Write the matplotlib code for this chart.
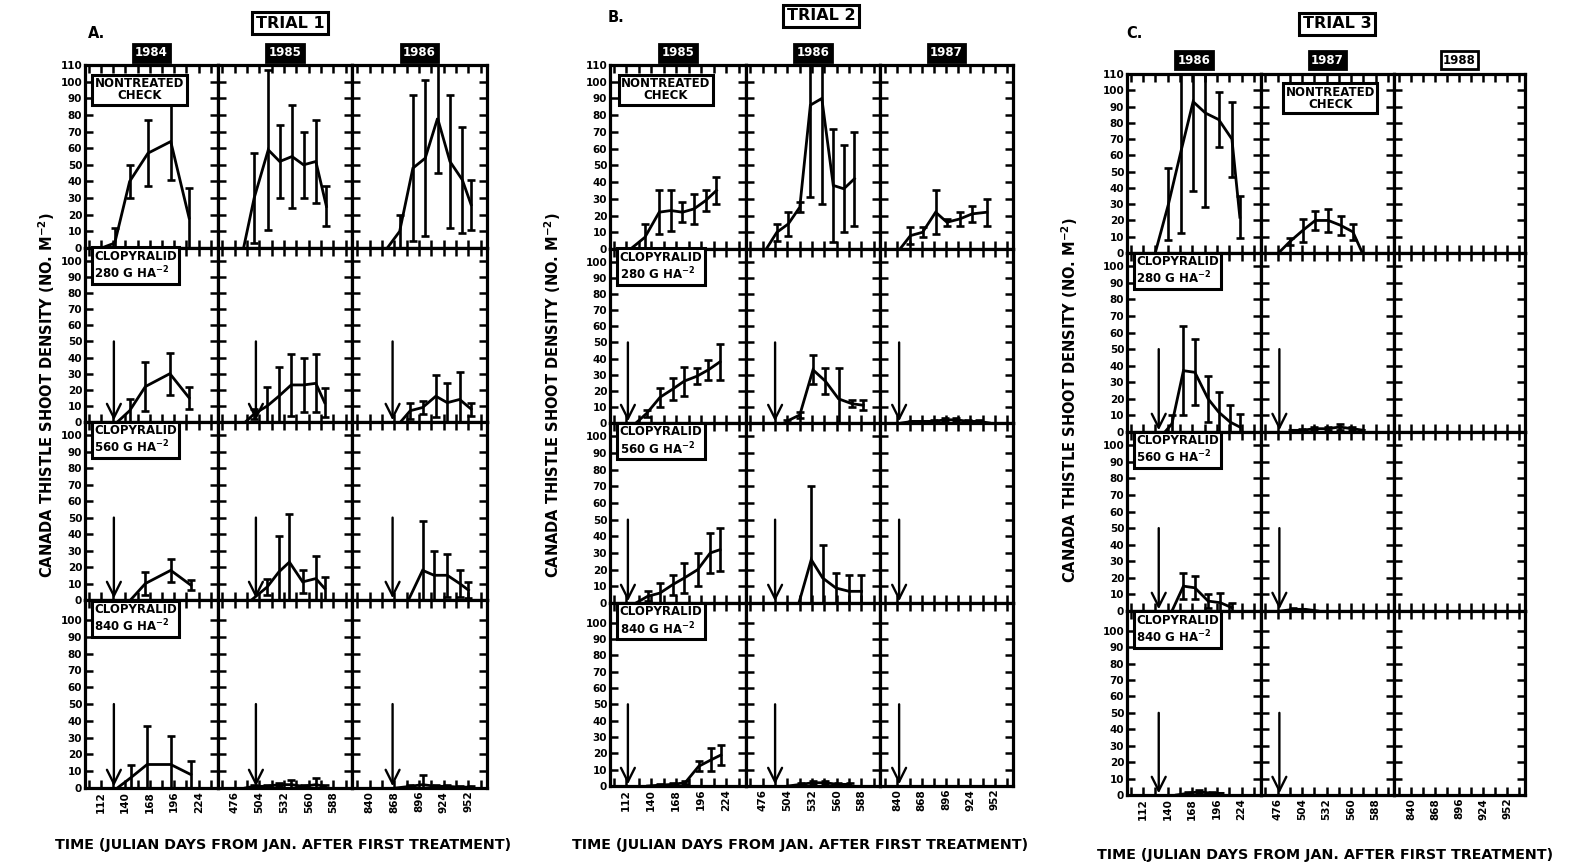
import matplotlib
matplotlib.use('Agg')
import matplotlib.pyplot as plt
import numpy as np

plt.rcParams['font.family'] = ['DejaVu Sans']
plt.rcParams['font.weight'] = 'bold'
plt.rcParams['mathtext.default'] = 'bf'

# ---------------- data (Julian days, shoots per m2, error) ----------------
YEARS_T1 = ['1984', '1985', '1986']
YEARS_T2 = ['1985', '1986', '1987']
YEARS_T3 = ['1986', '1987', '1988']
TICKS_Y1 = [112, 140, 168, 196, 224]
TICKS_Y2 = [476, 504, 532, 560, 588]
TICKS_Y3 = [840, 868, 896, 924, 952]
TREATMENTS = ['NONTREATED\nCHECK', 'CLOPYRALID\n280 G HA$^{-2}$',
              'CLOPYRALID\n560 G HA$^{-2}$', 'CLOPYRALID\n840 G HA$^{-2}$']

# Trial 1
T1_CHECK_DAY = [[113, 128, 145, 166, 192, 213], [486, 498, 514, 527, 541, 554, 568, 580], [860, 874, 889, 903, 917, 931, 945, 955]]
T1_CHECK_MEAN = [[0, 3, 40, 57, 64, 18], [0, 30, 59, 52, 55, 50, 52, 25], [0, 10, 48, 54, 78, 52, 41, 26]]
T1_CHECK_ERR = [[0, 9, 10, 20, 23, 18], [0, 27, 48, 22, 31, 20, 25, 12], [0, 10, 44, 47, 33, 40, 32, 15]]
T1_280_DAY = [[131, 145, 163, 191, 213], [488, 498, 513, 526, 540, 554, 568, 578], [875, 886, 900, 915, 928, 942, 955]]
T1_280_MEAN = [[0, 7, 22, 30, 15], [0, 5, 10, 16, 23, 23, 24, 12], [0, 7, 9, 16, 12, 14, 8]]
T1_280_ERR = [[0, 7, 15, 13, 7], [0, 3, 12, 18, 19, 17, 18, 9], [0, 5, 4, 13, 12, 17, 4]]
T1_560_DAY = [[146, 163, 192, 215], [495, 513, 526, 538, 553, 568, 578], [884, 900, 913, 928, 942, 952]]
T1_560_MEAN = [[0, 10, 18, 9], [0, 8, 17, 23, 11, 13, 7], [0, 18, 15, 15, 10, 6]]
T1_560_ERR = [[0, 7, 7, 3], [0, 5, 22, 29, 7, 14, 7], [0, 30, 15, 13, 8, 5]]
T1_840_DAY = [[131, 146, 165, 192, 215], [488, 498, 513, 526, 540, 554, 568, 578], [870, 886, 900, 915, 928, 942, 955]]
T1_840_MEAN = [[0, 6, 14, 14, 8], [0, 1, 1, 2, 2, 1, 2, 1], [0, 1, 2, 1, 1, 0.5, 0.5]]
T1_840_ERR = [[0, 8, 23, 17, 8], [0, 1, 1, 1, 3, 1, 4, 1], [0, 1, 6, 1, 1, 0.5, 0.5]]
T1_ARROW = [127, 500, 866]

# Trial 2
T2_CHECK_DAY = [[117, 133, 149, 162, 175, 188, 201, 213], [480, 492, 505, 518, 530, 543, 556, 568, 580], [843, 855, 869, 884, 897, 912, 926, 943]]
T2_CHECK_MEAN = [[0, 7, 22, 23, 22, 24, 29, 35], [0, 10, 15, 25, 86, 90, 38, 36, 42], [0, 8, 10, 22, 16, 18, 21, 22]]
T2_CHECK_ERR = [[0, 8, 13, 12, 6, 9, 6, 8], [0, 5, 7, 3, 55, 63, 34, 26, 28], [0, 5, 3, 13, 2, 4, 5, 8]]
T2_280_DAY = [[123, 135, 150, 164, 177, 191, 204, 217], [503, 518, 533, 547, 562, 577, 590], [845, 857, 869, 882, 895, 908, 921, 934, 946]]
T2_280_MEAN = [[0, 6, 16, 21, 26, 29, 33, 38], [1, 5, 33, 26, 15, 12, 11], [0, 1, 1, 1, 2, 2, 1, 1, 0]]
T2_280_ERR = [[0, 2, 6, 7, 9, 5, 6, 11], [1, 2, 9, 8, 19, 2, 3], [0, 0.5, 0.5, 1, 1, 1, 1, 1, 0]]
T2_560_DAY = [[123, 136, 150, 164, 177, 192, 206, 217], [517, 531, 544, 559, 574, 588], []]
T2_560_MEAN = [[0, 4, 6, 11, 15, 20, 30, 32], [0, 26, 15, 9, 7, 7], []]
T2_560_ERR = [[0, 3, 6, 6, 9, 10, 12, 13], [0, 44, 20, 9, 10, 10], []]
T2_840_DAY = [[136, 150, 164, 178, 193, 207, 218], [505, 519, 533, 547, 561, 575], []]
T2_840_MEAN = [[0, 0.5, 1, 2, 12, 16, 19], [0, 1, 2, 2, 1, 1], []]
T2_840_ERR = [[0, 0.5, 1, 1, 3, 7, 6], [0, 1, 1, 1, 1, 1], []]
T2_ARROW = [114, 490, 842]

# Trial 3
T3_CHECK_DAY = [[126, 141, 155, 169, 183, 198, 213, 222], [477, 490, 505, 519, 534, 548, 562, 572], []]
T3_CHECK_MEAN = [[0, 30, 62, 93, 86, 82, 70, 22], [0, 7, 14, 20, 20, 17, 13, 1], []]
T3_CHECK_ERR = [[0, 22, 50, 55, 58, 17, 23, 13], [0, 2, 7, 6, 7, 6, 5, 0], []]
T3_280_DAY = [[137, 145, 158, 171, 186, 198, 211, 222], [490, 504, 518, 533, 547, 561, 575], []]
T3_280_MEAN = [[0, 5, 37, 36, 20, 12, 6, 3], [1, 1, 2, 2, 3, 2, 1], []]
T3_280_ERR = [[0, 5, 27, 20, 14, 12, 10, 8], [0, 1, 1, 1, 2, 1, 0], []]
T3_560_DAY = [[145, 158, 171, 186, 200, 213], [480, 494, 508, 522], []]
T3_560_MEAN = [[0, 15, 14, 6, 5, 2], [0, 1, 1, 0], []]
T3_560_ERR = [[0, 8, 7, 4, 6, 3], [0, 1, 0, 0], []]
T3_840_DAY = [[150, 163, 176, 190, 203], [], []]
T3_840_MEAN = [[0, 1, 2, 1, 1], [], []]
T3_840_ERR = [[0, 1, 1, 1, 0], [], []]
T3_ARROW = [130, 478, None]

# ---------------- layout ----------------
W, H = 1569, 868
fig = plt.figure(figsize=(W / 100, H / 100), dpi=100)
fig.patch.set_facecolor('white')


def fx(x):
    return x / W


def fy(y):
    return 1 - y / H


XLIMS = [(94, 246), (457, 609), (820, 973)]
YLIMS = [(0, 110), (0, 108), (0, 108), (0, 112)]
TICKS_ALL = [TICKS_Y1, TICKS_Y2, TICKS_Y3]

trials = [
    dict(letter='A.', title='TRIAL 1', years=YEARS_T1, arrows=T1_ARROW,
         cols=[85, 218, 352, 487], rows=[65, 248, 422, 600, 788],
         data=[(T1_CHECK_DAY, T1_CHECK_MEAN, T1_CHECK_ERR), (T1_280_DAY, T1_280_MEAN, T1_280_ERR),
               (T1_560_DAY, T1_560_MEAN, T1_560_ERR), (T1_840_DAY, T1_840_MEAN, T1_840_ERR)],
         letter_xy=(97, 33), title_xy=(290, 23), year_y=53, check_col=0, check_x=0.41,
         ylab_x=47, ylab_y=395, xlab_xy=(283, 845)),
    dict(letter='B.', title='TRIAL 2', years=YEARS_T2, arrows=T2_ARROW,
         cols=[610, 746, 880, 1013], rows=[65, 249, 423, 603, 786],
         data=[(T2_CHECK_DAY, T2_CHECK_MEAN, T2_CHECK_ERR), (T2_280_DAY, T2_280_MEAN, T2_280_ERR),
               (T2_560_DAY, T2_560_MEAN, T2_560_ERR), (T2_840_DAY, T2_840_MEAN, T2_840_ERR)],
         letter_xy=(616, 17), title_xy=(821, 16), year_y=53, check_col=0, check_x=0.41,
         ylab_x=553, ylab_y=395, xlab_xy=(800, 845)),
    dict(letter='C.', title='TRIAL 3', years=YEARS_T3, arrows=T3_ARROW,
         cols=[1127, 1261, 1394, 1525], rows=[74, 253, 432, 611, 795],
         data=[(T3_CHECK_DAY, T3_CHECK_MEAN, T3_CHECK_ERR), (T3_280_DAY, T3_280_MEAN, T3_280_ERR),
               (T3_560_DAY, T3_560_MEAN, T3_560_ERR), (T3_840_DAY, T3_840_MEAN, T3_840_ERR)],
         letter_xy=(1134, 33), title_xy=(1337, 24), year_y=60, check_col=1, check_x=0.52,
         ylab_x=1070, ylab_y=400, xlab_xy=(1325, 855)),
]

LW = 2.0
for tr in trials:
    cols, rows = tr['cols'], tr['rows']
    for r in range(4):
        days_l, mean_l, err_l = tr['data'][r]
        for c in range(3):
            x0, x1 = cols[c], cols[c + 1]
            y0, y1 = rows[r], rows[r + 1]
            ax = fig.add_axes([fx(x0), fy(y1), (x1 - x0) / W, (y1 - y0) / H])
            ax.set_xlim(*XLIMS[c])
            ax.set_ylim(*YLIMS[r])
            for s in ax.spines.values():
                s.set_linewidth(2.3)
            ticks = TICKS_ALL[c]
            ax.set_xticks(ticks)
            ax.set_xticks([t - 14 for t in ticks] + [ticks[-1] + 14], minor=True)
            ytop = 110 if r == 0 else 100
            ax.set_yticks(np.arange(0, ytop + 1, 10))
            ax.tick_params(axis='both', which='both', direction='in', length=6, width=1.8,
                           top=True, right=True, labelsize=7.5, pad=2)
            if r < 3:
                ax.set_xticklabels([])
            else:
                ax.set_xticklabels([str(t) for t in ticks], rotation=90)
            if c > 0:
                ax.set_yticklabels([])
            # data
            d = np.array(days_l[c], dtype=float)
            m = np.array(mean_l[c], dtype=float)
            e = np.array(err_l[c], dtype=float)
            if len(d):
                ax.plot(d, m, color='black', lw=LW, solid_joinstyle='miter', clip_on=True)
                k = e > 0
                ax.errorbar(d[k], m[k], yerr=e[k], fmt='none', ecolor='black',
                            elinewidth=1.9, capsize=3, capthick=1.9)
            # arrows for treated rows
            if r > 0 and tr['arrows'][c] is not None:
                ax.annotate('', xy=(tr['arrows'][c], 1), xytext=(tr['arrows'][c], 50),
                            arrowprops=dict(arrowstyle='->', lw=1.7, color='black',
                                            mutation_scale=25, shrinkA=0, shrinkB=0))
            # treatment label box
            if (r == 0 and c == tr['check_col']) or (r > 0 and c == 0):
                if r == 0:
                    ax.text(tr['check_x'], 0.865, TREATMENTS[r], transform=ax.transAxes, ha='center',
                            va='center', fontsize=8.5, linespacing=0.9, multialignment='center',
                            bbox=dict(boxstyle='square,pad=0.2', fc='white', ec='black', lw=2.2))
                else:
                    ax.text(0.07, 0.9, TREATMENTS[r], transform=ax.transAxes, ha='left', va='center',
                            fontsize=8.5, linespacing=1.15, multialignment='left',
                            bbox=dict(boxstyle='square,pad=0.2', fc='white', ec='black', lw=2.2))
    # year labels
    for c in range(3):
        xc = (cols[c] + cols[c + 1]) / 2
        filled = tr['years'][c] != '1988'
        fig.text(fx(xc), fy(tr['year_y']), tr['years'][c], ha='center', va='center', fontsize=8.5,
                 color='white' if filled else 'black',
                 bbox=dict(boxstyle='square,pad=0.2', fc='black' if filled else 'white', ec='black', lw=2))
    fig.text(fx(tr['letter_xy'][0]), fy(tr['letter_xy'][1]), tr['letter'], ha='center', va='center',
             fontsize=10.5)
    fig.text(fx(tr['title_xy'][0]), fy(tr['title_xy'][1]), tr['title'], ha='center', va='center',
             fontsize=11.5, bbox=dict(boxstyle='square,pad=0.22', fc='white', ec='black', lw=2.2))
    fig.text(fx(tr['ylab_x']), fy(tr['ylab_y']), 'CANADA THISTLE SHOOT DENSITY (NO. M$^{-2}$)',
             rotation=90, ha='center', va='center', fontsize=10.5)
    fig.text(fx(tr['xlab_xy'][0]), fy(tr['xlab_xy'][1]),
             'TIME (JULIAN DAYS FROM JAN. AFTER FIRST TREATMENT)', ha='center', va='center', fontsize=10.3)

fig.savefig('out.png', dpi=100, facecolor='white')
